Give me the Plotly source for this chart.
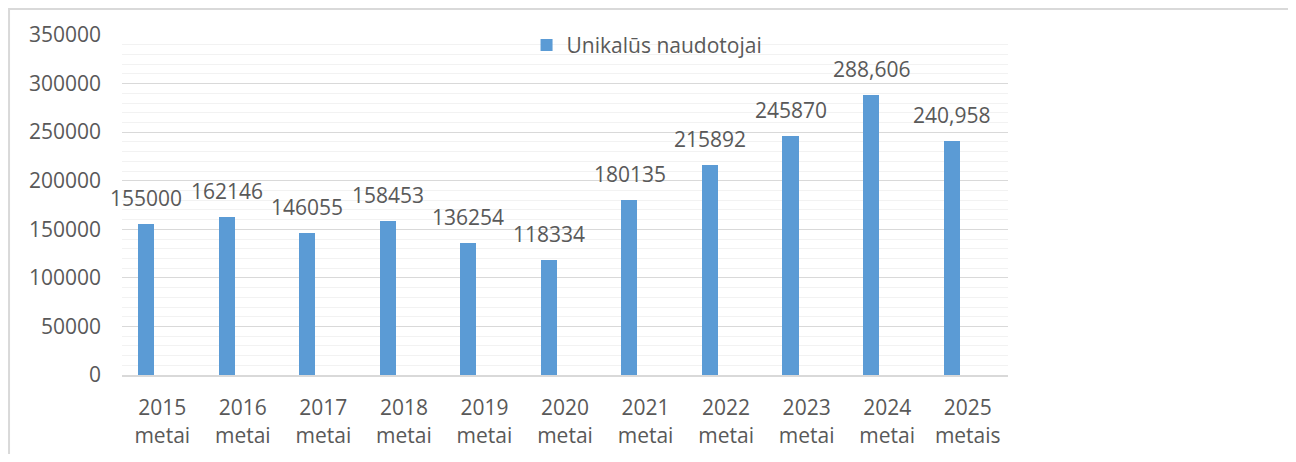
import plotly.graph_objects as go

categories = ["2015<br>metai", "2016<br>metai", "2017<br>metai", "2018<br>metai",
              "2019<br>metai", "2020<br>metai", "2021<br>metai", "2022<br>metai",
              "2023<br>metai", "2024<br>metai", "2025<br>metais"]
values = [155000, 162146, 146055, 158453, 136254, 118334, 180135, 215892,
          245870, 288606, 240958]
value_labels = ["155000", "162146", "146055", "158453", "136254", "118334",
                "180135", "215892", "245870", "288,606", "240,958"]
series_name = "Unikalūs naudotojai"
y_ticks = [0, 50000, 100000, 150000, 200000, 250000, 300000, 350000]

FONT = "Open Sans"
TXT = "#595959"
BAR = "#5B9BD5"

fig = go.Figure()
fig.add_trace(go.Bar(
    x=categories, y=values, name=series_name,
    marker=dict(color=BAR, line=dict(width=0)),
    width=0.2, offset=-0.3,
    showlegend=True,
))

annotations = []
for c, v, t in zip(categories, values, value_labels):
    annotations.append(dict(
        x=c, y=v, xref="x", yref="y", text=t, showarrow=False,
        yanchor="bottom", xanchor="center", xshift=-16, yshift=10,
        font=dict(family=FONT, size=21, color=TXT),
    ))

fig.update_layout(
    width=1288, height=446,
    margin=dict(l=114, r=288, t=27, b=79, autoexpand=False),
    paper_bgcolor="white", plot_bgcolor="white",
    font=dict(family=FONT, size=21, color=TXT),
    bargap=0,
    annotations=annotations,
    legend=dict(
        orientation="h", x=0.4566, y=1.03, xanchor="left", yanchor="top",
        bgcolor="rgba(0,0,0,0)", font=dict(family=FONT, size=21, color=TXT),
        itemclick=False,
    ),
    shapes=[dict(type="rect", xref="paper", yref="paper",
                 x0=-0.1275, x1=1.3172, y0=-0.35, y1=1.0765,
                 line=dict(color="#d9d9d9", width=2), layer="below")],
)

fig.update_yaxes(
    range=[0, 350000], tickvals=y_ticks, tickformat="d",
    showgrid=True, gridcolor="#d9d9d9", gridwidth=1,
    minor=dict(dtick=10000, showgrid=True, gridcolor="#f2f2f2", gridwidth=1),
    zeroline=False, showline=False, ticks="", ticklabelstandoff=20,
    tickfont=dict(family=FONT, size=21, color=TXT), automargin=False,
)
fig.update_xaxes(
    type="category", range=[-0.5, len(categories) - 0.5],
    showgrid=False, showline=True, linecolor="#d9d9d9",
    linewidth=2, ticks="", ticklabelstandoff=13,
    tickfont=dict(family=FONT, size=21, color=TXT), automargin=False,
)

fig.write_html("out.html")
